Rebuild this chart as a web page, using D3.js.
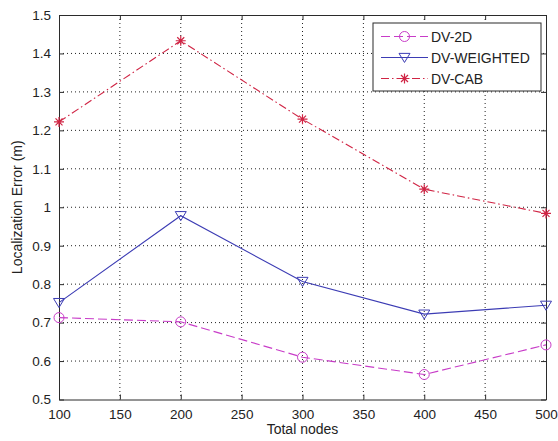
<!DOCTYPE html>
<html>
<head>
<meta charset="utf-8">
<script src="https://cdn.jsdelivr.net/npm/d3@7/dist/d3.min.js"></script>
<style>
  html, body { margin: 0; padding: 0; background: #fff; }
  svg { display: block; font-family: "Liberation Sans", Arial, sans-serif; }
</style>
</head>
<body>
<svg id="chart" width="558" height="441"></svg>
<script>
// Localization error versus number of nodes for three DV-Hop variants
const nodes = [100, 200, 300, 400, 500];
const dv2d = [0.713, 0.702, 0.610, 0.565, 0.642];
const dvWeighted = [0.752, 0.978, 0.807, 0.722, 0.745];
const dvCab = [1.222, 1.433, 1.229, 1.047, 0.984];

const xTicks = [100, 150, 200, 250, 300, 350, 400, 450, 500];
const yTicks = [0.5, 0.6, 0.7, 0.8, 0.9, 1.0, 1.1, 1.2, 1.3, 1.4, 1.5];

const seriesNames = ["DV-2D", "DV-WEIGHTED", "DV-CAB"];

const svg = d3.select("#chart");
const m = { left: 59, right: 546, top: 15, bottom: 399.5 };

const x = d3.scaleLinear().domain([100, 500]).range([m.left, m.right]);
const y = d3.scaleLinear().domain([0.5, 1.5]).range([m.bottom, m.top]);

const axisColor = "#2b2b2b";
const tickLen = 5;

// dotted grid
const grid = svg.append("g");
grid.selectAll("line.gx").data(xTicks.slice(1, -1)).join("line")
  .attr("x1", d => x(d)).attr("x2", d => x(d))
  .attr("y1", m.top).attr("y2", m.bottom)
  .attr("stroke", "#222").attr("stroke-width", 1).attr("stroke-dasharray", "1,3");
grid.selectAll("line.gy").data(yTicks.slice(1, -1)).join("line")
  .attr("y1", d => y(d)).attr("y2", d => y(d))
  .attr("x1", m.left).attr("x2", m.right)
  .attr("stroke", "#222").attr("stroke-width", 1).attr("stroke-dasharray", "1,3");

// axes with inward ticks on all four sides
const fmt = d => d3.format("")(+d.toFixed(1));
const bottomAxis = svg.append("g").attr("transform", `translate(0,${m.bottom})`)
  .call(d3.axisBottom(x).tickValues(xTicks).tickSizeInner(-tickLen).tickSizeOuter(0).tickPadding(10));
const topAxis = svg.append("g").attr("transform", `translate(0,${m.top})`)
  .call(d3.axisTop(x).tickValues(xTicks).tickSizeInner(-tickLen).tickSizeOuter(0).tickFormat(""));
const leftAxis = svg.append("g").attr("transform", `translate(${m.left},0)`)
  .call(d3.axisLeft(y).tickValues(yTicks).tickSizeInner(-tickLen).tickSizeOuter(0).tickPadding(8).tickFormat(fmt));
const rightAxis = svg.append("g").attr("transform", `translate(${m.right},0)`)
  .call(d3.axisRight(y).tickValues(yTicks).tickSizeInner(-tickLen).tickSizeOuter(0).tickFormat(""));

[bottomAxis, topAxis, leftAxis, rightAxis].forEach(g => {
  g.select(".domain").attr("stroke", axisColor);
  g.selectAll(".tick line").attr("stroke", axisColor);
  g.selectAll("text").attr("fill", "#222").style("font-size", "13.5px")
    .style("font-family", "'Liberation Sans', Arial, sans-serif");
});

// axis titles
svg.append("text").attr("x", (m.left + m.right) / 2).attr("y", 434)
  .attr("text-anchor", "middle").attr("fill", "#222").style("font-size", "14px")
  .text("Total nodes");
svg.append("text")
  .attr("transform", `translate(22,${(m.top + m.bottom) / 2}) rotate(-90)`)
  .attr("text-anchor", "middle").attr("fill", "#222").style("font-size", "14px")
  .text("Localization Error (m)");

// series styles
const styles = [
  { values: dv2d, color: "#c83cc8", dash: "9,4", marker: "circle" },
  { values: dvWeighted, color: "#3c3cb4", dash: null, marker: "triangle" },
  { values: dvCab, color: "#d02444", dash: "8,3,1.5,3", marker: "star" }
];

function drawMarker(g, type, cx, cy, color) {
  if (type === "circle") {
    g.append("circle").attr("cx", cx).attr("cy", cy).attr("r", 5)
      .attr("fill", "none").attr("stroke", color).attr("stroke-width", 1);
  } else if (type === "triangle") {
    const s = 5.5;
    g.append("path")
      .attr("d", `M${cx - s},${cy - s * 0.75} L${cx + s},${cy - s * 0.75} L${cx},${cy + s * 0.9} Z`)
      .attr("fill", "none").attr("stroke", color).attr("stroke-width", 1);
  } else {
    const s = 5;
    const d = [
      `M${cx - s},${cy} L${cx + s},${cy}`,
      `M${cx},${cy - s} L${cx},${cy + s}`,
      `M${cx - s * 0.7},${cy - s * 0.7} L${cx + s * 0.7},${cy + s * 0.7}`,
      `M${cx - s * 0.7},${cy + s * 0.7} L${cx + s * 0.7},${cy - s * 0.7}`
    ].join(" ");
    g.append("path").attr("d", d).attr("stroke", color).attr("stroke-width", 1.2);
  }
}

const line = d3.line().x(d => x(d[0])).y(d => y(d[1]));

styles.forEach(s => {
  const pts = nodes.map((n, i) => [n, s.values[i]]);
  const g = svg.append("g");
  g.append("path").datum(pts).attr("d", line)
    .attr("fill", "none").attr("stroke", s.color).attr("stroke-width", 1.1)
    .attr("stroke-dasharray", s.dash);
  pts.forEach(p => drawMarker(g, s.marker, x(p[0]), y(p[1]), s.color));
});

// legend
const lg = svg.append("g");
lg.append("rect").attr("x", 373).attr("y", 23).attr("width", 168).attr("height", 68)
  .attr("fill", "#fff").attr("stroke", axisColor).attr("stroke-width", 1);
const legendY = [36.5, 57.5, 78.5];
styles.forEach((s, i) => {
  const ly = legendY[i];
  lg.append("line").attr("x1", 381).attr("x2", 428).attr("y1", ly).attr("y2", ly)
    .attr("stroke", s.color).attr("stroke-width", 1.1).attr("stroke-dasharray", s.dash);
  drawMarker(lg, s.marker, 404.5, ly, s.color);
  lg.append("text").attr("x", 431).attr("y", ly + 5).attr("fill", "#222")
    .style("font-size", "14px").text(seriesNames[i]);
});
</script>
</body>
</html>
